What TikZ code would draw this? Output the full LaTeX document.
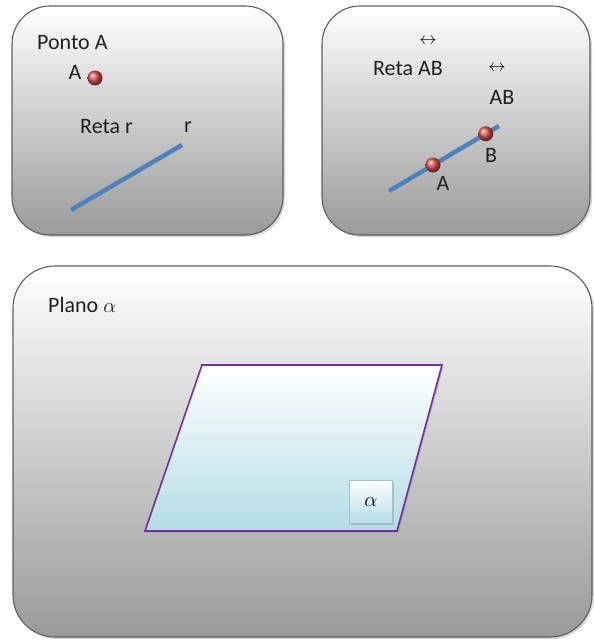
\documentclass[tikz,border=0pt]{standalone}
\usepackage{fontspec}
\setmainfont{Carlito}
\usetikzlibrary{shadows}
\definecolor{pcol}{HTML}{5E5E5E}
\definecolor{gcol}{HTML}{9A9A9A}
\definecolor{lcol}{HTML}{4F81BD}
\definecolor{dcol}{HTML}{E0524C}
\definecolor{ecol}{HTML}{7030A0}
\definecolor{fcol}{HTML}{B4DDE7}

\begin{document}
\begin{tikzpicture}[x=1pt, y=-1pt,
  panel/.style={draw=pcol, line width=1.1pt, rounded corners=38pt,
    top color=white, middle color=gcol!40, bottom color=gcol,
    drop shadow={shadow xshift=2pt, shadow yshift=-2pt, opacity=0.3}},
  reta/.style={lcol, line width=4.5pt},
  dot/.style={circle, inner sep=0pt, minimum size=15pt, ball color=dcol},
  lbl/.style={inner sep=0pt, text=black!88, font=\fontsize{22}{26}\selectfont},
  seta/.style={inner sep=0pt, font=\fontsize{17}{20}\selectfont},
  plano/.style={draw=ecol, line width=1.6pt, top color=white, bottom color=fcol,
    drop shadow={shadow xshift=1.5pt, shadow yshift=-1.5pt, opacity=0.35}},
  tag/.style={draw=fcol!70!gray, line width=0.4pt, top color=white, bottom color=fcol,
    minimum width=43pt, minimum height=43pt, inner sep=0pt,
    font=\fontsize{21}{24}\selectfont,
    drop shadow={shadow xshift=1.5pt, shadow yshift=-1.5pt, opacity=0.35}}]
\useasboundingbox (0,0) rectangle (594,641);
% ponto e reta r
\path[panel] (12,6) rectangle (283,235);
\node[lbl, anchor=west] (ponto) at (37,43) {Ponto A};
\node[lbl] (nA) at (75,72) {A};
\node[dot] (pt) at (95,78) {};
\node[lbl, anchor=west] (retar) at (80,127) {Reta r};
\node[lbl] (nr) at (188,127) {r};
\coordinate (r1) at (71,210);
\coordinate (r2) at (182,145);
\draw[reta] (r1) -- (r2);
% reta AB
\path[panel] (322,6) rectangle (590,235);
\node[seta] (s1) at (428,41) {$\leftrightarrow$};
\node[lbl] (retaAB) at (408,69) {Reta AB};
\node[seta] (s2) at (497,68) {$\leftrightarrow$};
\node[lbl] (nAB) at (502,97) {AB};
\coordinate (q1) at (389,191);
\coordinate (q2) at (499,126);
\draw[reta] (q1) -- (q2)
  node[dot, pos=0.4] (pA) {}
  node[dot, pos=0.88] (pB) {};
\node[lbl] (lA) at (443,183) {A};
\node[lbl] (lB) at (491,155) {B};
% plano alpha
\path[panel, rounded corners=42pt] (13,266) rectangle (592,637);
\node[lbl, anchor=west] (nplano) at (48,305) {Plano $\alpha$};
\path[plano] (202,365) -- (442,365) -- (397,531) -- (145,531) -- cycle;
\node[tag] (alfa) at (371,502) {$\alpha$};
\end{tikzpicture}
\end{document}
